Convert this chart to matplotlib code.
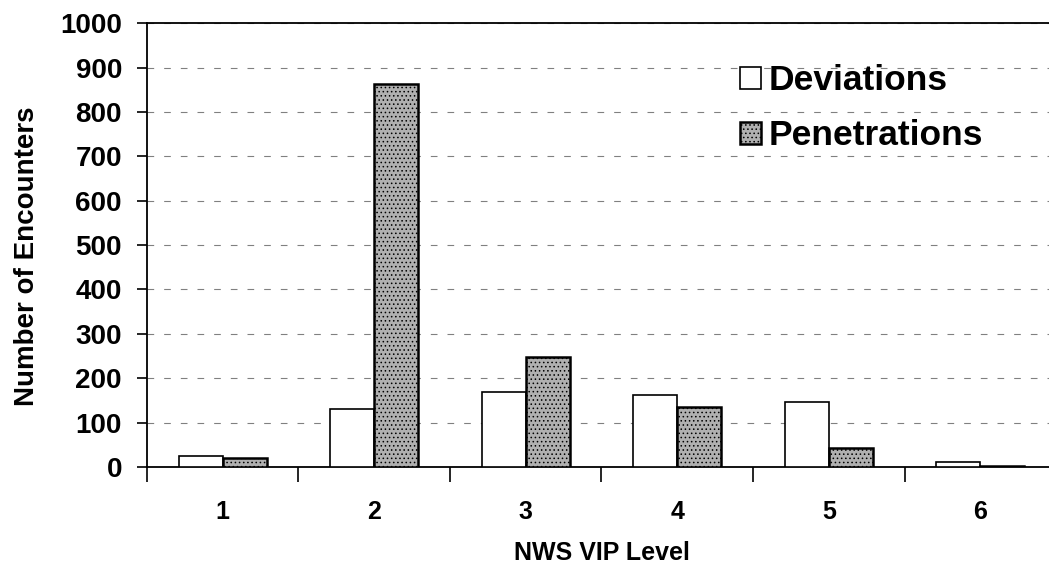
import matplotlib
matplotlib.use("Agg")
import matplotlib.pyplot as plt
import numpy as np

plt.rcParams["font.family"] = ["Liberation Sans", "DejaVu Sans"]
plt.rcParams["hatch.linewidth"] = 0.6

levels = ["1", "2", "3", "4", "5", "6"]
deviations = [25, 130, 168, 163, 147, 12]
penetrations = [20, 862, 248, 135, 42, 2]
yticks = list(range(0, 1001, 100))

fig = plt.figure(figsize=(10.49, 5.75), dpi=100)
ax = fig.add_axes([0.1401, 0.1878, 0.8666, 0.772])

x = np.arange(len(levels))
w = 0.29
ax.bar(x - w/2, deviations, w, color="white", edgecolor="black", lw=1.2,
       label="Deviations", zorder=3)
ax.bar(x + w/2, penetrations, w, color="#b0b0b0", edgecolor="black", lw=1.8,
       hatch="....", label="Penetrations", zorder=3)

ax.set_xlim(-0.5, 5.5)
ax.set_ylim(0, 1000)
ax.set_yticks(yticks)
ax.set_yticklabels([str(v) for v in yticks], fontsize=20, fontweight="bold")
ax.set_xticks(x)
ax.set_xticklabels(levels, fontsize=18, fontweight="bold")
ax.set_xticks(np.arange(-0.5, 5.6, 1), minor=True)
ax.tick_params(axis="x", which="major", length=0, pad=24)
ax.tick_params(axis="x", which="minor", length=11, width=1.2, direction="out")
ax.tick_params(axis="y", length=7, width=1.2, direction="out", pad=11)

ax.yaxis.grid(True, linestyle=(0, (6, 9)), color="#808080", lw=0.8, zorder=0)
for s in ["left", "bottom", "top"]:
    ax.spines[s].set_linewidth(1.3)
ax.spines["right"].set_visible(False)

ax.set_ylabel("Number of Encounters", fontsize=20, fontweight="bold")
ax.yaxis.set_label_coords(-0.118, 0.475)
ax.set_xlabel("NWS VIP Level", fontsize=18, fontweight="bold", labelpad=12)

ax.legend(loc="upper left", bbox_to_anchor=(0.7054, 0.888), bbox_transform=fig.transFigure,
          frameon=False, prop={"size": 25.5, "weight": "bold"}, borderpad=0, borderaxespad=0,
          handlelength=0.58, handleheight=0.58, handletextpad=0.22, labelspacing=0.62)

fig.savefig("out.png", dpi=100)
